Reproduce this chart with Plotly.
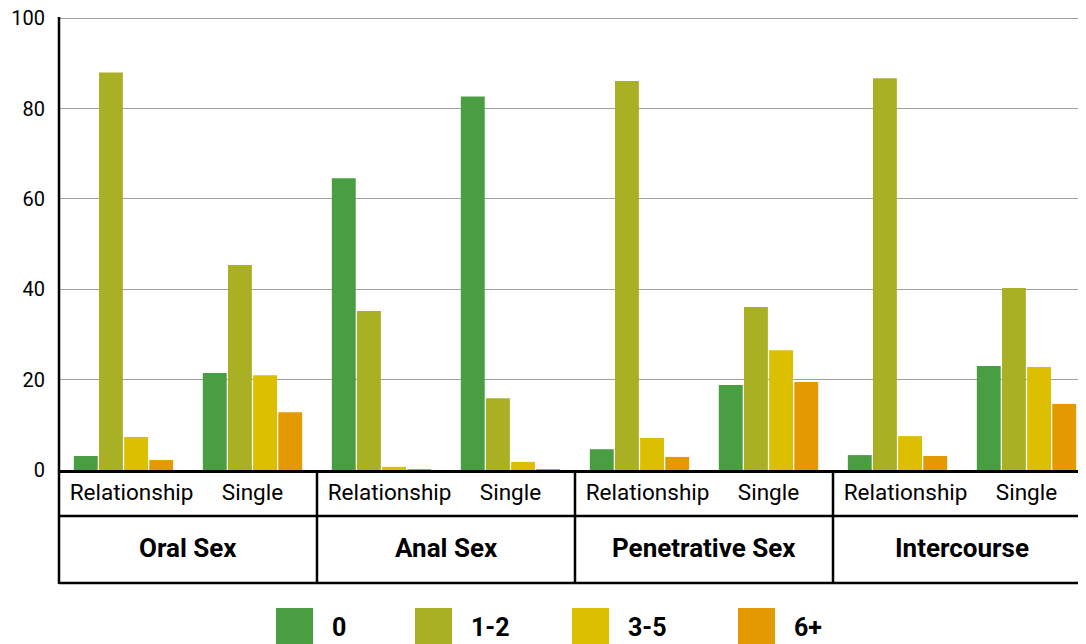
import plotly.graph_objects as go

# share of respondents by number of partners, per activity and relationship status
activities = ["Oral Sex", "Anal Sex", "Penetrative Sex", "Intercourse"]
statuses = ["Relationship", "Single"]
series_names = ["0", "1-2", "3-5", "6+"]
colors = ["#4a9e42", "#a9b023", "#dbbf00", "#e39a00"]

# values in order: Oral R, Oral S, Anal R, Anal S, Pen R, Pen S, Inter R, Inter S
zero = [3.1, 21.5, 64.6, 82.7, 4.6, 18.8, 3.3, 23.0]
one_two = [88.0, 45.4, 35.2, 15.9, 86.1, 36.1, 86.7, 40.3]
three_five = [7.3, 21.0, 0.7, 1.8, 7.1, 26.5, 7.5, 22.8]
six_plus = [2.2, 12.8, 0.2, 0.1, 2.9, 19.5, 3.1, 14.6]

cats = [a + " | " + s for a in activities for s in statuses]
# small lead-in space keeps "Relationship" clear of the cell border
ticktext = [("\u2002\u2009" + s if s == "Relationship" else s)
            for a in activities for s in statuses]

# page body has an 8px margin, so work in window pixels and shift
OFF = 8
WIN_W, WIN_H = 1086, 644
W, H = WIN_W - OFF, WIN_H - OFF
L, T, B, R = 59, 16, 470, 1086   # plot area in window pixels
xr = [-0.5, -0.5 + (R - L) / 129]
yr = [0, 100.5]


def px_x(p):
    return (p - L) / (R - L)


def px_y(p):
    return (B - p) / (B - T)


def cat_paper(v):
    return (v - xr[0]) / (xr[1] - xr[0])


fig = go.Figure()
for name, vals, col in zip(series_names, [zero, one_two, three_five, six_plus], colors):
    fig.add_trace(go.Bar(x=cats, y=vals, name=name, marker_color=col,
                         marker_line_width=0, showlegend=False))

shapes = []
line = dict(color="black", width=2.5)
# table: horizontal lines
for py in [516, 583]:
    shapes.append(dict(type="line", xref="paper", yref="paper",
                       x0=0, x1=1.01, y0=px_y(py), y1=px_y(py), line=line))
# y axis extended down through table
shapes.append(dict(type="line", xref="paper", yref="paper",
                   x0=0, x1=0, y0=px_y(17), y1=px_y(584), line=line))
# group dividers
for k in range(1, len(activities) + 1):
    xp = cat_paper(2 * k - 0.5)
    shapes.append(dict(type="line", xref="paper", yref="paper",
                       x0=xp, x1=xp, y0=0, y1=px_y(584), line=line))

annotations = []
for i, a in enumerate(activities):
    annotations.append(dict(x=2 * i + 0.5, xref="x", y=px_y(548), yref="paper",
                            yanchor="middle", text="<b>" + a + "</b>", showarrow=False,
                            font=dict(family="Roboto", size=26, color="black")))

# legend drawn as big swatches
leg_x = [276, 415, 572, 738]
for name, col, lx in zip(series_names, colors, leg_x):
    shapes.append(dict(type="rect", xref="paper", yref="paper",
                       x0=px_x(lx), x1=px_x(lx + 37), y0=px_y(608), y1=px_y(644),
                       fillcolor=col, line_width=0))
    annotations.append(dict(x=px_x(lx + 54), xref="paper", y=px_y(627), yref="paper",
                            xanchor="left", yanchor="middle",
                            text="<b>" + name + "</b>", showarrow=False,
                            font=dict(family="Roboto", size=25, color="black")))

fig.update_layout(
    width=W, height=H,
    margin=dict(l=L - OFF, r=0, t=T - OFF, b=H - (B - OFF), pad=0, autoexpand=False),
    plot_bgcolor="white", paper_bgcolor="white",
    barmode="group", bargap=0.22, bargroupgap=0.05,
    font=dict(family="Roboto", size=20, color="black"),
    shapes=shapes, annotations=annotations,
    xaxis=dict(range=xr, tickvals=cats, ticktext=ticktext, showgrid=False,
               showline=True, linecolor="black", linewidth=2.5, automargin=False,
               ticks="", ticklabelstandoff=0, tickfont=dict(size=22.5)),
    yaxis=dict(range=yr, tickvals=[0, 20, 40, 60, 80, 100], ticklabeloverflow="allow",
               showgrid=True, gridcolor="#a0a0a0", gridwidth=1, automargin=False,
               zeroline=False, showline=False,
               ticks="", ticklabelstandoff=13, tickfont=dict(size=20)),
)

fig.write_html("out.html")
